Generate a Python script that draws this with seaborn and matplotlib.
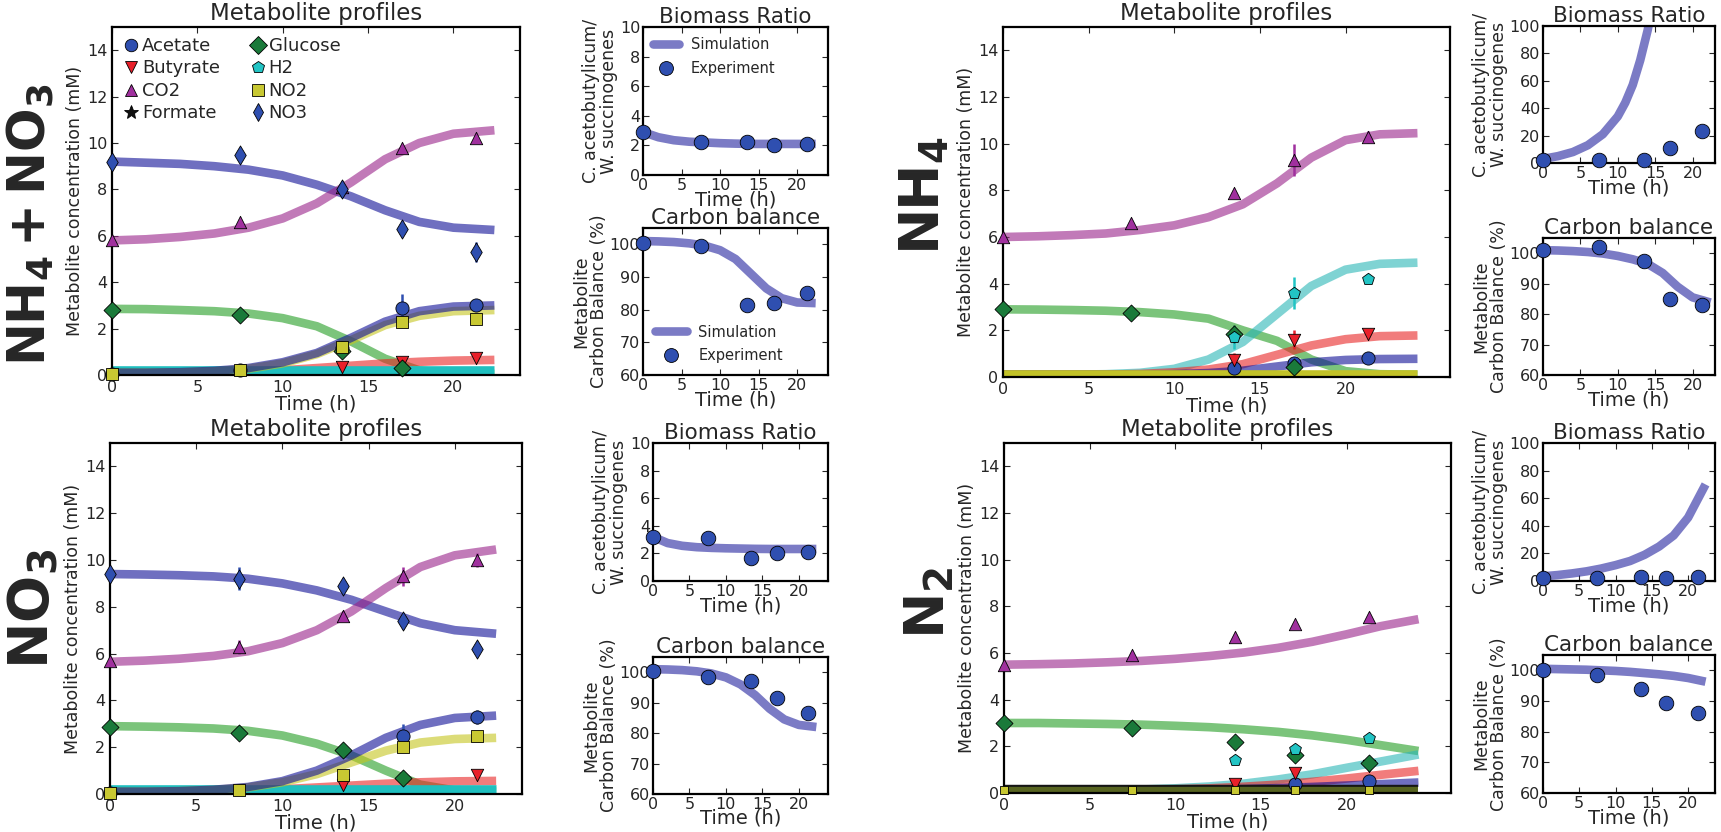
import numpy as np
import pandas as pd
import matplotlib
matplotlib.use("Agg")
import matplotlib.pyplot as plt
import seaborn as sns
from matplotlib.lines import Line2D

sns.set_style("ticks")
plt.rcParams.update({
    "font.family": ["DejaVu Sans"],
    "xtick.direction": "in", "ytick.direction": "in",
    "xtick.top": True, "ytick.right": True,
    "axes.linewidth": 1.6, "axes.edgecolor": "black",
    "xtick.major.size": 4, "ytick.major.size": 4,
    "mathtext.default": "bf",
})

# ---------------- data ----------------
T_EXP = [0, 7.5, 13.5, 17, 21.3]
T_SIM_L = [0, 2, 4, 6, 8, 10, 12, 14, 16, 18, 20, 22.4]
T_SIM_R = [0, 2, 4, 6, 8, 10, 12, 14, 16, 18, 20, 22, 24.2]
NAN = np.nan

SPECIES = ["Acetate", "Butyrate", "CO2", "Formate", "Glucose", "H2", "NO2", "NO3"]

# --- NH4 + NO3 ---
A_SIM_NO3 = [9.2, 9.15, 9.1, 9.0, 8.85, 8.6, 8.2, 7.7, 7.1, 6.6, 6.35, 6.25]
A_SIM_CO2 = [5.8, 5.85, 5.95, 6.1, 6.35, 6.75, 7.4, 8.3, 9.3, 10.0, 10.4, 10.55]
A_SIM_GLC = [2.85, 2.84, 2.8, 2.75, 2.65, 2.45, 2.1, 1.45, 0.7, 0.2, 0.05, 0.05]
A_SIM_ACE = [0.1, 0.1, 0.12, 0.18, 0.3, 0.55, 0.95, 1.6, 2.3, 2.75, 2.95, 3.0]
A_SIM_NO2 = [0.1, 0.1, 0.11, 0.16, 0.27, 0.5, 0.9, 1.5, 2.15, 2.55, 2.75, 2.8]
A_SIM_BUT = [0.1, 0.1, 0.1, 0.12, 0.15, 0.2, 0.3, 0.4, 0.5, 0.57, 0.62, 0.65]
A_SIM_H2 = [0.2, 0.2, 0.2, 0.2, 0.2, 0.2, 0.2, 0.2, 0.2, 0.2, 0.2, 0.2]
A_EXP_ACE = [0.05, 0.2, 1.15, 2.9, 3.0]
A_ERR_ACE = [0, 0, 0, 0.6, 0]
A_EXP_BUT = [NAN, NAN, 0.35, 0.55, 0.75]
A_EXP_CO2 = [5.8, 6.6, 8.1, 9.8, 10.2]
A_EXP_GLC = [2.8, 2.6, 1.05, 0.3, NAN]
A_EXP_NO2 = [0.05, 0.2, 1.2, 2.3, 2.4]
A_EXP_NO3 = [9.2, 9.5, 8.0, 6.3, 5.3]
A_ERR_NO3 = [0, 0.2, 0.25, 0.15, 0.45]
A_BIO_SIM = [2.9, 2.55, 2.35, 2.25, 2.2, 2.15, 2.12, 2.1, 2.1, 2.1, 2.1, 2.1]
A_BIO_EXP = [2.9, 2.25, 2.2, 2.05, 2.1]
A_CB_SIM = [101, 100.9, 100.7, 100.3, 99.6, 98.2, 95.5, 91.0, 86.5, 83.5, 82.2, 82.0]
A_CB_EXP = [100.5, 99.5, 81.5, 82, 85]

# --- NH4 ---
B_SIM_CO2 = [6.0, 6.03, 6.08, 6.15, 6.3, 6.5, 6.85, 7.4, 8.3, 9.4, 10.15, 10.4, 10.45]
B_SIM_GLC = [2.9, 2.89, 2.87, 2.84, 2.78, 2.68, 2.5, 2.0, 1.55, 0.75, 0.25, 0.12, 0.1]
B_SIM_H2 = [0.1, 0.1, 0.1, 0.12, 0.18, 0.35, 0.75, 1.5, 2.7, 3.9, 4.6, 4.85, 4.9]
B_SIM_BUT = [0.1, 0.1, 0.1, 0.1, 0.13, 0.2, 0.32, 0.55, 0.95, 1.35, 1.62, 1.75, 1.78]
B_SIM_ACE = [0.1, 0.1, 0.1, 0.1, 0.1, 0.12, 0.17, 0.27, 0.45, 0.63, 0.73, 0.77, 0.78]
B_SIM_NO2 = [0.15, 0.15, 0.15, 0.15, 0.15, 0.15, 0.15, 0.15, 0.15, 0.15, 0.15, 0.15, 0.15]
B_EXP_ACE = [NAN, NAN, 0.4, 0.6, 0.8]
B_EXP_BUT = [NAN, NAN, 0.75, 1.6, 1.85]
B_ERR_BUT = [0, 0, 0.3, 0.4, 0.15]
B_EXP_CO2 = [6.0, 6.6, 7.9, 9.3, 10.3]
B_ERR_CO2 = [0, 0, 0, 0.7, 0.25]
B_EXP_GLC = [2.9, 2.75, 1.85, 0.45, NAN]
B_ERR_GLC = [0, 0, 0.4, 0, 0]
B_EXP_H2 = [NAN, NAN, 1.7, 3.6, 4.2]
B_ERR_H2 = [0, 0, 0.5, 0.7, 0]
B_BIO_T = [0, 2, 4, 6, 8, 10, 11, 12, 13, 14, 15]
B_BIO_SIM = [3, 5, 8, 13, 21, 34, 44, 57, 75, 97, 125]
B_BIO_EXP = [2, 2, 2.5, 11, 23]
B_CB_SIM = [101, 100.9, 100.7, 100.4, 99.9, 99.1, 98.0, 96.5, 93.5, 89.0, 85.5, 83.8]
B_CB_EXP = [101, 102, 97.5, 85, 83]

# --- NO3 ---
C_SIM_NO3 = [9.4, 9.38, 9.35, 9.3, 9.2, 9.0, 8.7, 8.3, 7.8, 7.3, 7.0, 6.85]
C_SIM_CO2 = [5.65, 5.7, 5.78, 5.9, 6.1, 6.45, 7.0, 7.8, 8.8, 9.7, 10.2, 10.45]
C_SIM_GLC = [2.9, 2.88, 2.85, 2.8, 2.7, 2.5, 2.15, 1.65, 1.0, 0.4, 0.15, 0.1]
C_SIM_ACE = [0.1, 0.1, 0.12, 0.18, 0.3, 0.55, 1.0, 1.65, 2.4, 2.95, 3.25, 3.35]
C_SIM_NO2 = [0.1, 0.1, 0.12, 0.17, 0.28, 0.5, 0.85, 1.35, 1.85, 2.2, 2.35, 2.4]
C_SIM_BUT = [0.1, 0.1, 0.1, 0.12, 0.15, 0.2, 0.28, 0.36, 0.44, 0.5, 0.54, 0.56]
C_SIM_H2 = [0.2, 0.2, 0.2, 0.2, 0.2, 0.2, 0.2, 0.2, 0.2, 0.2, 0.2, 0.2]
C_EXP_ACE = [0.05, NAN, NAN, 2.5, 3.3]
C_ERR_ACE = [0, 0, 0, 0.5, 0.3]
C_EXP_BUT = [NAN, NAN, 0.4, NAN, 0.8]
C_EXP_CO2 = [5.7, 6.3, 7.6, 9.3, 10.0]
C_ERR_CO2 = [0, 0.3, 0.2, 0.4, 0.3]
C_EXP_GLC = [2.85, 2.6, 1.9, 0.7, NAN]
C_EXP_NO2 = [0.05, 0.15, 0.8, 2.0, 2.5]
C_ERR_NO2 = [0, 0, 0.2, 0, 0]
C_EXP_NO3 = [9.4, 9.2, 8.9, 7.4, 6.2]
C_ERR_NO3 = [0, 0.5, 0.2, 0.35, 0.15]
C_BIO_SIM = [3.2, 2.75, 2.55, 2.45, 2.4, 2.37, 2.35, 2.33, 2.32, 2.32, 2.32, 2.32]
C_BIO_EXP = [3.2, 3.1, 1.7, 2.05, 2.1]
C_CB_SIM = [101, 100.9, 100.7, 100.3, 99.6, 98.3, 96.0, 92.5, 88.0, 84.5, 82.7, 82.0]
C_CB_EXP = [100.5, 98.5, 97, 91.5, 86.5]

# --- N2 ---
D_SIM_CO2 = [5.5, 5.52, 5.55, 5.6, 5.66, 5.75, 5.87, 6.02, 6.22, 6.48, 6.8, 7.15, 7.45]
D_SIM_GLC = [3.0, 3.0, 2.98, 2.96, 2.93, 2.88, 2.82, 2.73, 2.62, 2.47, 2.28, 2.05, 1.8]
D_SIM_H2 = [0.1, 0.1, 0.11, 0.12, 0.15, 0.2, 0.28, 0.4, 0.58, 0.8, 1.08, 1.35, 1.65]
D_SIM_BUT = [0.1, 0.1, 0.1, 0.11, 0.13, 0.16, 0.2, 0.27, 0.36, 0.48, 0.62, 0.78, 0.95]
D_SIM_ACE = [0.1, 0.1, 0.1, 0.1, 0.11, 0.12, 0.14, 0.17, 0.21, 0.26, 0.32, 0.38, 0.45]
D_SIM_FOR = [0.15, 0.15, 0.15, 0.15, 0.15, 0.15, 0.15, 0.15, 0.15, 0.15, 0.15, 0.15, 0.15]
D_SIM_NO2 = [0.15, 0.15, 0.15, 0.15, 0.15, 0.15, 0.15, 0.15, 0.15, 0.15, 0.15, 0.15, 0.15]
D_EXP_ACE = [NAN, NAN, NAN, 0.4, 0.5]
D_EXP_BUT = [NAN, NAN, 0.4, 0.85, 1.15]
D_EXP_CO2 = [5.5, 5.9, 6.7, 7.25, 7.55]
D_EXP_GLC = [3.0, 2.8, 2.2, 1.65, 1.3]
D_EXP_H2 = [NAN, NAN, 1.4, 1.9, 2.35]
D_EXP_NO2 = [0.12, 0.12, 0.12, 0.12, 0.12]
D_BIO_SIM = [3.4, 4.3, 5.5, 7, 9, 11.5, 14.5, 19, 25, 33, 46, 70]
D_BIO_EXP = [2.5, 2, 3, 2.5, 3]
D_CB_SIM = [100.5, 100.4, 100.3, 100.2, 100.0, 99.8, 99.5, 99.1, 98.7, 98.2, 97.5, 96.3]
D_CB_EXP = [100, 98.5, 94, 89.5, 86]

CONDITION_LABELS = [r"NH$_4$$\,$+$\,$NO$_3$", r"NH$_4$", r"NO$_3$", r"N$_2$"]

# ---------------- styles ----------------
LINE_COL = {"Acetate": "#0f0f96", "NO3": "#0f0f96", "CO2": "#992189",
            "Glucose": "#239d23", "Butyrate": "#e92525", "H2": "#2ab6b6",
            "NO2": "#c5c51e", "Formate": "#222222"}
MARK_COL = {"Acetate": "#2f4fb0", "Butyrate": "#e8202a", "CO2": "#a0309e",
            "Formate": "#111111", "Glucose": "#1a7a3a", "H2": "#22c4c4",
            "NO2": "#c8c832", "NO3": "#2f4fb0"}
MARKERS = {"Acetate": "o", "Butyrate": "v", "CO2": "^", "Formate": "*",
           "Glucose": "D", "H2": "p", "NO2": "s", "NO3": "d"}
MSIZE = {"Acetate": 90, "Butyrate": 80, "CO2": 80, "Formate": 90,
         "Glucose": 75, "H2": 80, "NO2": 80, "NO3": 95}
SIM_BLUE = "#0f0f96"
EXP_BLUE = "#2f4fb0"

fig = plt.figure(figsize=(17.21, 8.32), dpi=100)
W, H = 1721.0, 832.0


def add_ax(l, r, t, b):
    return fig.add_axes([l / W, 1 - b / H, (r - l) / W, (b - t) / H])


def draw_main(ax, t_sim, sims, exps, errs, xmax, strong, order, msize=None):
    msize = msize or {}
    for sp in order:
        if sp not in sims:
            continue
        col, a, lw = LINE_COL[sp], 0.6, 6.2
        if sp in strong:
            col, a, lw = strong[sp]
        sns.lineplot(x=t_sim, y=sims[sp], color=col, lw=lw, alpha=a, ax=ax,
                     zorder=2, legend=False, solid_capstyle="butt")
    for sp in SPECIES:
        if sp not in exps:
            continue
        if sp in errs:
            ax.errorbar(T_EXP, exps[sp], yerr=errs[sp], fmt="none",
                        ecolor=MARK_COL[sp], elinewidth=1.8, capsize=0, zorder=2.5)
        sns.scatterplot(x=T_EXP, y=exps[sp], marker=MARKERS[sp], color=MARK_COL[sp],
                        s=msize.get(sp, MSIZE[sp]), edgecolor="black", linewidth=0.6,
                        ax=ax, zorder=3, legend=False, clip_on=False)
    ax.set_xlim(0, xmax)
    ax.set_ylim(0, 15)
    ax.set_xticks([0, 5, 10, 15, 20])
    ax.set_yticks([0, 2, 4, 6, 8, 10, 12, 14])
    ax.tick_params(labelsize=11.5)
    ax.set_title("Metabolite profiles", fontsize=16.5, pad=5)
    ax.set_xlabel("Time (h)", fontsize=14, labelpad=0)
    ax.set_ylabel("Metabolite concentration (mM)", fontsize=12.5, labelpad=2)


def draw_small(ax, t_sim, sim, exp, ylim, yticks, title, ylabel, xmax):
    sns.lineplot(x=t_sim, y=sim, color=SIM_BLUE, lw=6.2, alpha=0.55, ax=ax,
                 zorder=2, legend=False, solid_capstyle="butt")
    sns.scatterplot(x=T_EXP, y=exp, color=EXP_BLUE, s=110, edgecolor="black",
                    linewidth=0.6, ax=ax, zorder=3, legend=False, clip_on=False)
    ax.set_xlim(0, xmax)
    ax.set_ylim(*ylim)
    ax.set_xticks([0, 5, 10, 15, 20])
    ax.set_yticks(yticks)
    ax.tick_params(labelsize=11.5, pad=2)
    ax.set_title(title, fontsize=15.5, pad=3)
    ax.set_xlabel("Time (h)", fontsize=14, labelpad=-2)
    ax.set_ylabel(ylabel, fontsize=12.5, labelpad=1, linespacing=1.0)


BIO_LABEL = "C. acetobutylicum/\nW. succinogenes"
CB_LABEL = "Metabolite\nCarbon Balance (%)"
ORDER_L = ["Glucose", "Butyrate", "H2", "NO3", "CO2", "NO2", "Acetate"]
ORDER_R = ["Glucose", "CO2", "H2", "Butyrate", "Acetate", "Formate", "NO2"]

# ----- NH4 + NO3 (top-left) -----
ax = add_ax(112, 520, 27, 375)
draw_main(ax, T_SIM_L,
          {"NO3": A_SIM_NO3, "CO2": A_SIM_CO2, "Glucose": A_SIM_GLC, "Acetate": A_SIM_ACE,
           "NO2": A_SIM_NO2, "Butyrate": A_SIM_BUT, "H2": A_SIM_H2},
          {"Acetate": A_EXP_ACE, "Butyrate": A_EXP_BUT, "CO2": A_EXP_CO2,
           "Glucose": A_EXP_GLC, "NO2": A_EXP_NO2, "NO3": A_EXP_NO3},
          {"Acetate": A_ERR_ACE, "NO3": A_ERR_NO3}, 23.9,
          {"H2": ("#1fbfbf", 1.0, 6.2)}, ORDER_L)
handles = [Line2D([], [], ls="none", marker=MARKERS[s], markersize=9 if s != "Formate" else 10,
                  markerfacecolor=MARK_COL[s], markeredgecolor="black", markeredgewidth=0.6,
                  label=s) for s in SPECIES]
ax.legend(handles=handles, ncol=2, loc="upper left", frameon=False, fontsize=13,
          handletextpad=0.1, columnspacing=1.6, labelspacing=0.25,
          borderaxespad=0.15, handlelength=1.0)

ax = add_ax(643, 828, 27, 175)
draw_small(ax, T_SIM_L, A_BIO_SIM, A_BIO_EXP, (0, 10), [0, 2, 4, 6, 8, 10],
           "Biomass Ratio", BIO_LABEL, 24)
lh = [Line2D([], [], color=SIM_BLUE, alpha=0.55, lw=6.2, label="Simulation"),
      Line2D([], [], ls="none", marker="o", markersize=10, markerfacecolor=EXP_BLUE,
             markeredgecolor="black", markeredgewidth=0.6, label="Experiment")]
ax.legend(handles=lh, loc="upper left", frameon=False, fontsize=10.5, handlelength=1.8,
          borderaxespad=0.3, labelspacing=0.6)

ax = add_ax(643, 828, 228, 375)
draw_small(ax, T_SIM_L, A_CB_SIM, A_CB_EXP, (60, 105), [60, 70, 80, 90, 100],
           "Carbon balance", CB_LABEL, 24)
ax.legend(handles=lh, loc="lower left", frameon=False, fontsize=10.5, handlelength=2.2,
          borderaxespad=0.4, labelspacing=0.6)

# ----- NH4 (top-right) -----
ax = add_ax(1003, 1450, 27, 377)
draw_main(ax, T_SIM_R,
          {"CO2": B_SIM_CO2, "Glucose": B_SIM_GLC, "H2": B_SIM_H2, "Butyrate": B_SIM_BUT,
           "Acetate": B_SIM_ACE, "NO2": B_SIM_NO2},
          {"Acetate": B_EXP_ACE, "Butyrate": B_EXP_BUT, "CO2": B_EXP_CO2,
           "Glucose": B_EXP_GLC, "H2": B_EXP_H2},
          {"Butyrate": B_ERR_BUT, "CO2": B_ERR_CO2, "Glucose": B_ERR_GLC, "H2": B_ERR_H2},
          26.1, {"NO2": ("#c2c228", 1.0, 6.2)}, ORDER_R)

ax = add_ax(1543, 1715, 26, 163)
draw_small(ax, B_BIO_T, B_BIO_SIM, B_BIO_EXP, (0, 100), [0, 20, 40, 60, 80, 100],
           "Biomass Ratio", BIO_LABEL, 23)
ax = add_ax(1543, 1715, 238, 375)
draw_small(ax, T_SIM_L, B_CB_SIM, B_CB_EXP, (60, 105), [60, 70, 80, 90, 100],
           "Carbon balance", CB_LABEL, 23)

# ----- NO3 (bottom-left) -----
ax = add_ax(110, 522, 443, 794)
draw_main(ax, T_SIM_L,
          {"NO3": C_SIM_NO3, "CO2": C_SIM_CO2, "Glucose": C_SIM_GLC, "Acetate": C_SIM_ACE,
           "NO2": C_SIM_NO2, "Butyrate": C_SIM_BUT, "H2": C_SIM_H2},
          {"Acetate": C_EXP_ACE, "Butyrate": C_EXP_BUT, "CO2": C_EXP_CO2,
           "Glucose": C_EXP_GLC, "NO2": C_EXP_NO2, "NO3": C_EXP_NO3},
          {"Acetate": C_ERR_ACE, "CO2": C_ERR_CO2, "NO2": C_ERR_NO2, "NO3": C_ERR_NO3},
          23.9, {"H2": ("#1fbfbf", 1.0, 6.2)}, ORDER_L)

ax = add_ax(653, 828, 443, 581)
draw_small(ax, T_SIM_L, C_BIO_SIM, C_BIO_EXP, (0, 10), [0, 2, 4, 6, 8, 10],
           "Biomass Ratio", BIO_LABEL, 24)
ax = add_ax(653, 828, 657, 794)
draw_small(ax, T_SIM_L, C_CB_SIM, C_CB_EXP, (60, 105), [60, 70, 80, 90, 100],
           "Carbon balance", CB_LABEL, 24)

# ----- N2 (bottom-right) -----
ax = add_ax(1004, 1451, 443, 793)
draw_main(ax, T_SIM_R,
          {"CO2": D_SIM_CO2, "Glucose": D_SIM_GLC, "H2": D_SIM_H2, "Butyrate": D_SIM_BUT,
           "Acetate": D_SIM_ACE, "NO2": D_SIM_NO2, "Formate": D_SIM_FOR},
          {"Acetate": D_EXP_ACE, "Butyrate": D_EXP_BUT, "CO2": D_EXP_CO2,
           "Glucose": D_EXP_GLC, "H2": D_EXP_H2, "NO2": D_EXP_NO2},
          {}, 26.1,
          {"Formate": ("#151515", 1.0, 7.5), "NO2": ("#5f6e22", 0.9, 4.5)},
          ["Glucose", "CO2", "H2", "Butyrate", "Acetate", "Formate", "NO2"],
          msize={"NO2": 35})

ax = add_ax(1543, 1715, 443, 581)
draw_small(ax, T_SIM_L, D_BIO_SIM, D_BIO_EXP, (0, 100), [0, 20, 40, 60, 80, 100],
           "Biomass Ratio", BIO_LABEL, 23.7)
ax = add_ax(1543, 1715, 655, 793)
draw_small(ax, T_SIM_L, D_CB_SIM, D_CB_EXP, (60, 105), [60, 70, 80, 90, 100],
           "Carbon balance", CB_LABEL, 23.7)

# ----- condition labels -----
for lab, (x, y), fs in zip(CONDITION_LABELS,
                           [(30, 225), (924, 195), (33, 609), (929, 603)],
                           [37, 40, 40, 40]):
    fig.text(x / W, 1 - y / H, lab, rotation=90, fontsize=fs, fontweight="bold",
             ha="center", va="center")

fig.savefig("out.png", dpi=100, facecolor="white")
